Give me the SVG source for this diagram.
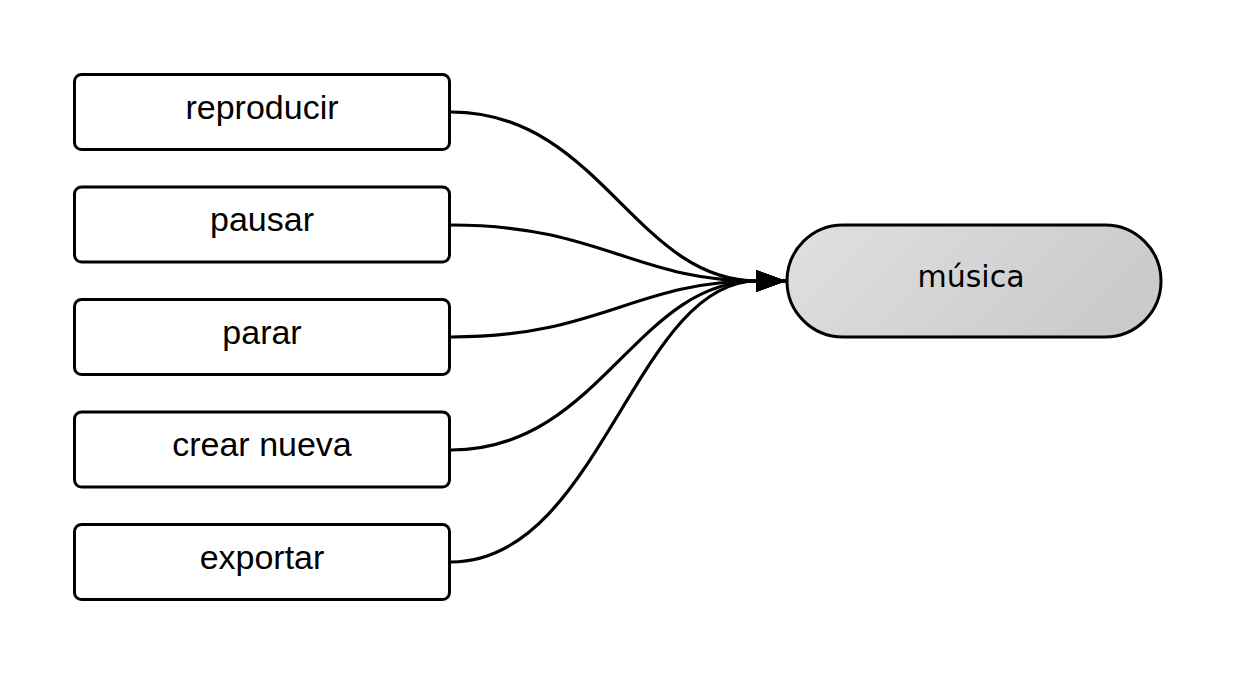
<svg xmlns="http://www.w3.org/2000/svg" width="1238" height="675" viewBox="0 0 1238 675">
<defs>
<linearGradient id="g" x1="0" y1="0" x2="1" y2="0.3">
<stop offset="0" stop-color="#e0e0e0"/>
<stop offset="1" stop-color="#cbcbcb"/>
</linearGradient>
<marker id="arr" markerUnits="userSpaceOnUse" markerWidth="32" markerHeight="24" refX="30" refY="11" orient="auto">
<polygon points="0,0 30,11 0,22" fill="#000"/>
</marker>
<style>
.box{fill:#fff;stroke:#000;stroke-width:3}
.lbl{font-family:"Liberation Sans",Arial,sans-serif;font-size:34px;fill:#000;text-anchor:middle}
.edge{fill:none;stroke:#000;stroke-width:3.2}
</style>
</defs>
<rect width="1238" height="675" fill="#fff"/>
<g id="connectors">
<path class="edge" d="M451,112 C600,112 635,281 757,281 L786,281" marker-end="url(#arr)"/>
<path class="edge" d="M451,225 C600,225 635,281 757,281 L786,281" marker-end="url(#arr)"/>
<path class="edge" d="M451,337 C600,337 635,281 757,281 L786,281" marker-end="url(#arr)"/>
<path class="edge" d="M451,450 C600,450 635,281 757,281 L786,281" marker-end="url(#arr)"/>
<path class="edge" d="M451,562 C600,562 635,281 757,281 L786,281" marker-end="url(#arr)"/>
</g>
<g id="n-reproducir"><rect class="box" x="74.5" y="74.5" width="375" height="75" rx="7"/><text class="lbl" x="262" y="119">reproducir</text></g>
<g id="n-pausar"><rect class="box" x="74.5" y="187" width="375" height="75" rx="7"/><text class="lbl" x="262" y="231">pausar</text></g>
<g id="n-parar"><rect class="box" x="74.5" y="299.5" width="375" height="75" rx="7"/><text class="lbl" x="262" y="344">parar</text></g>
<g id="n-crear"><rect class="box" x="74.5" y="412" width="375" height="75" rx="7"/><text class="lbl" x="262" y="456">crear nueva</text></g>
<g id="n-exportar"><rect class="box" x="74.5" y="524.5" width="375" height="75" rx="7"/><text class="lbl" x="262" y="569">exportar</text></g>
<g id="n-musica"><rect x="787" y="225" width="374" height="112" rx="56" fill="url(#g)" stroke="#000" stroke-width="3"/><text x="971" y="287" font-family="'DejaVu Sans',sans-serif" font-size="30" text-anchor="middle" fill="#000">música</text></g>
</svg>
